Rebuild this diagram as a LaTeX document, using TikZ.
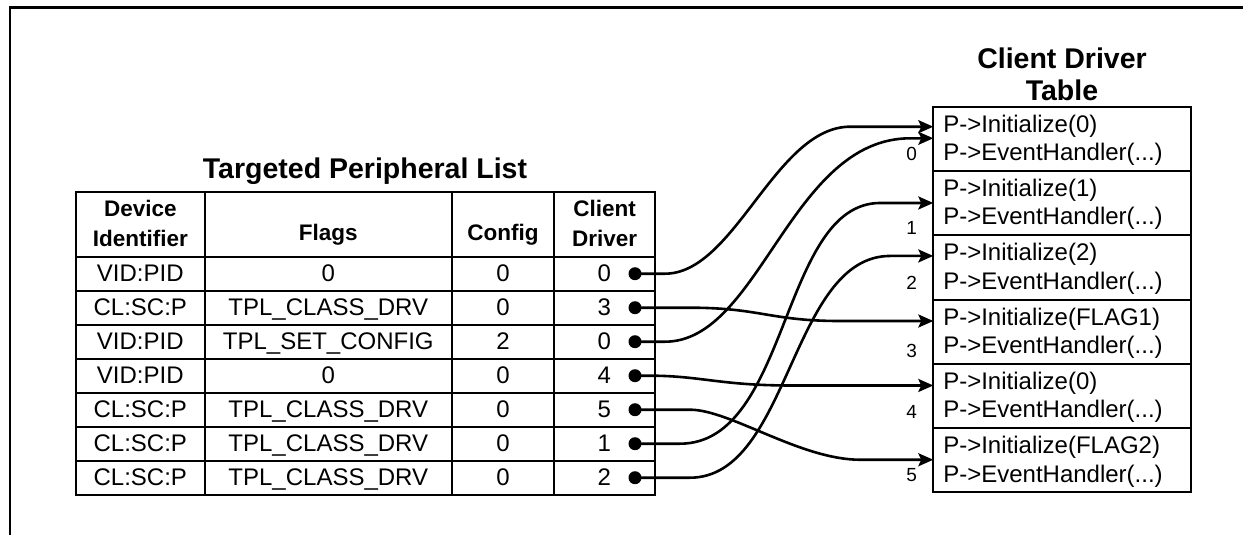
\documentclass[tikz,border=0pt]{standalone}
\usepackage{fontspec}
\setmainfont{Liberation Sans}
\usetikzlibrary{arrows.meta,calc}
\begin{document}
\begin{tikzpicture}[x=1pt,y=-1pt,
  every node/.style={inner sep=0pt,outer sep=0pt},
  frame/.style={line width=2.5pt},
  grid/.style={line width=2pt},
  cell/.style={anchor=base,font=\fontsize{24}{26}\selectfont},
  head/.style={anchor=base,font=\bfseries\fontsize{22.5}{26}\selectfont},
  title/.style={anchor=base,font=\bfseries\fontsize{28.5}{32}\selectfont},
  cbox/.style={draw,line width=2pt,anchor=north west,minimum width=257.7pt,minimum height=64.27pt},
  entry/.style={anchor=base west,font=\fontsize{24}{26}\selectfont},
  slot/.style={font=\fontsize{19}{22}\selectfont},
  dot/.style={circle,fill,minimum size=13pt},
  conn/.style={line width=2.6pt,-{Stealth[length=15pt,width=13pt,inset=3pt]}},
]
\useasboundingbox (0,0) rectangle (1243,535);

% outer frame (only its top and left edges fall inside the page)
\begin{scope}
  \clip (0,0) rectangle (1243,535);
  \draw[frame] (1260,7.5) -- (10,7.5) -- (10,550);
\end{scope}

% ---------- Targeted Peripheral List ----------
\node[title] (tpl) at (365,178.3) {Targeted Peripheral List};

\draw[grid] (75.7,192.3) rectangle (655,494.7);
\foreach \x in {205,451.7,554.3}
  \draw[grid] (\x,192.3) -- (\x,494.7);
\foreach \k in {0,...,6}
  \draw[grid] (75.7,{256.7+34*\k}) -- (655,{256.7+34*\k});

\node[head] (hid1) at (140.3,216) {Device};
\node[head] (hid2) at (140.3,246) {Identifier};
\node[head] (hfl)  at (328.3,240.5) {Flags};
\node[head] (hcf)  at (503,240.5) {Config};
\node[head] (hcd1) at (604.7,216.5) {Client};
\node[head] (hcd2) at (604.7,246.5) {Driver};

\foreach \id/\fl/\cf/\cd [count=\r from 0] in {
    VID:PID/0/0/0,
    CL:SC:P/TPL\_CLASS\_DRV/0/3,
    VID:PID/TPL\_SET\_CONFIG/2/0,
    VID:PID/0/0/4,
    CL:SC:P/TPL\_CLASS\_DRV/0/5,
    CL:SC:P/TPL\_CLASS\_DRV/0/1,
    CL:SC:P/TPL\_CLASS\_DRV/0/2} {
  \node[cell] (id\r) at (140.3,{256.7+34*\r+24.5}) {\id};
  \node[cell] (fl\r) at (328.3,{256.7+34*\r+24.5}) {\fl};
  \node[cell] (cf\r) at (503,{256.7+34*\r+24.5}) {\cf};
  \node[cell] (cd\r) at (604.3,{256.7+34*\r+24.5}) {\cd};
  \node[dot]  (d\r)  at (635,{256.7+34*\r+17}) {};
}

% ---------- Client Driver Table ----------
\node[title] (cdt1) at (1062,68.3) {Client Driver};
\node[title] (cdt2) at (1062,100) {Table};

\foreach \a [count=\i from 0] in {0,1,2,FLAG1,0,FLAG2} {
  \node[cbox] (b\i) at (933.3,{106.7+64.27*\i}) {};
  \node[entry] (bi\i) at ($(b\i.north west)+(10,25.5)$) {P->Initialize(\a)};
  \node[entry] (be\i) at ($(b\i.north west)+(10,54)$) {P->EventHandler(...)};
}

% slot numbers beside the table
\node[slot] (n0) at (911.7,154) {0};
\node[slot] (n1) at (911.7,228) {1};
\node[slot] (n2) at (911.7,283) {2};
\node[slot] (n3) at (911.7,351) {3};
\node[slot] (n4) at (911.7,412) {4};
\node[slot] (n5) at (911.7,475) {5};

% arrow targets on the left edges of the entries
\coordinate (t0a) at ($(b0.north west)+(0,20)$);
\coordinate (t0b) at ($(b0.north west)+(0,31.6)$);
\coordinate (t1)  at ($(b1.north west)+(0,32)$);
\coordinate (t2)  at ($(b2.north west)+(0,20.7)$);
\coordinate (t3)  at ($(b3.north west)+(0,21.5)$);
\coordinate (t4)  at ($(b4.north west)+(0,21.7)$);
\coordinate (t5)  at ($(b5.north west)+(0,31.7)$);

% ---------- connectors ----------
\draw[conn] (d0.center) -- ++(30,0) .. controls +(70,0) and +(-75,0) .. ($(t0a)+(-83,0)$) -- (t0a);
\draw[conn] (d2.center) -- ++(30,0) .. controls +(95,0) and +(-120,0) .. ($(t0b)+(-23,0)$) -- (t0b);
\draw[conn] (d1.center) -- ++(55,0) .. controls +(70,0) and +(-70,0) .. ($(t3)+(-93,0)$) -- (t3);
\draw[conn] (d3.center) -- ++(15,0) .. controls +(50,0) and +(-70,0) .. ($(t4)+(-143,0)$) -- (t4);
\draw[conn] (d4.center) -- ++(55,0) .. controls +(40,0) and +(-60,0) .. ($(t5)+(-73,0)$) -- (t5);
\draw[conn] (d5.center) -- ++(45,0) .. controls +(110,0) and +(-100,0) .. ($(t1)+(-53,0)$) -- (t1);
\draw[conn] (d6.center) -- ++(55,0) .. controls +(100,0) and +(-100,0) .. ($(t2)+(-43,0)$) -- (t2);

\end{tikzpicture}
\end{document}
